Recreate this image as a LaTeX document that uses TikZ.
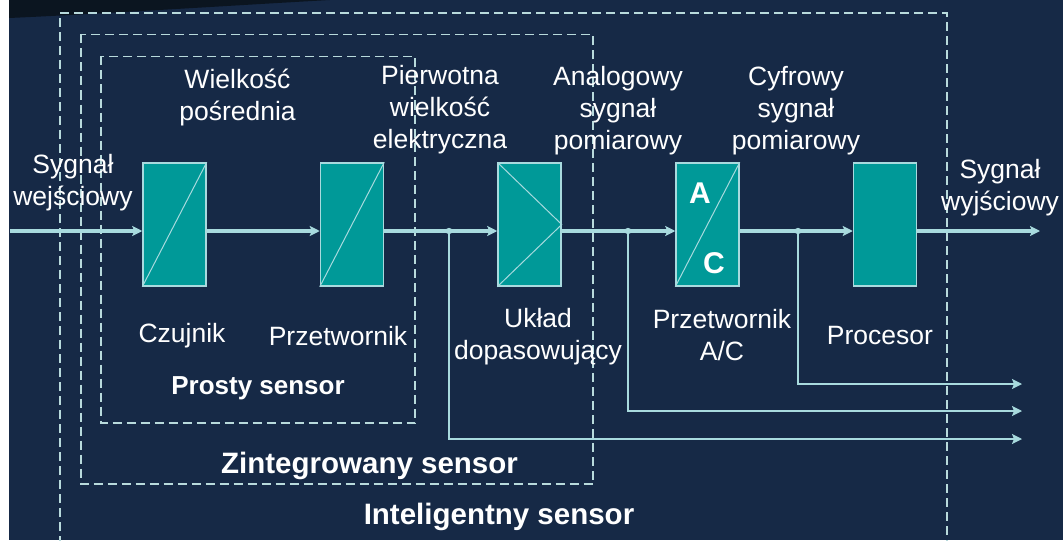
\documentclass[tikz,border=0pt]{standalone}
\usepackage{fontspec}
\setmainfont{Liberation Sans}
\usetikzlibrary{arrows.meta,positioning,calc}
\definecolor{bgnavy}{RGB}{22,41,70}
\definecolor{bgdark}{RGB}{11,21,32}
\definecolor{blockteal}{RGB}{0,153,152}
\definecolor{sigline}{RGB}{168,218,222}
\definecolor{boxline}{RGB}{184,218,220}

\begin{document}
\begin{tikzpicture}[
  x=0.5pt, y=-0.5pt,
  font=\fontsize{13.25}{16}\selectfont,
  text=white,
  >={Stealth[length=5pt,width=5pt,inset=1pt]},
  block/.style={draw=sigline, line width=0.75pt, fill=blockteal, minimum width=31.5pt, minimum height=61.5pt, inner sep=0pt},
  diag/.style={draw=sigline, line width=0.5pt},
  sig/.style={draw=sigline, line width=1.6pt, ->},
  tap/.style={draw=sigline, line width=1pt, ->},
  frame/.style={draw=boxline, line width=0.75pt, dash pattern=on 4.5pt off 2.5pt},
  lbl/.style={align=center, inner sep=0pt},
  title/.style={inner sep=0pt, font=\bfseries\fontsize{14.75}{16}\selectfont},
  letter/.style={inner sep=0pt, font=\bfseries\fontsize{15}{16}\selectfont}]

\useasboundingbox (0,0) rectangle (1063,540);
\fill[bgnavy] (0,0) rectangle (1063,540);
\fill[bgdark] (9,0) -- (9,18) .. controls (100,14) and (240,5) .. (330,0) -- cycle;
\fill[white] (0,0) rectangle (9,540);

% sensor frames
\begin{scope}
  \clip (0,0) rectangle (1063,540);
  \draw[frame] (60,545) -- (60,13) -- (947,13) -- (947,545);
\end{scope}
\draw[frame] (81,34.5) rectangle (593,484);
\draw[frame] (101,56.5) rectangle (415,423);

% blocks
\foreach \n/\x in {cz/174.5, pr/352, ud/529.5, ac/707.5, cpu/885}
  \node[block] (\n) at (\x,224.5) {};

\foreach \n in {cz,pr,ac}
  \draw[diag] (\n.south west) -- (\n.north east);
\draw[diag] (ud.north west) -- (ud.east) -- (ud.south west);

\node[letter] (la) at (700,193) {A};
\node[letter] (lc) at (714,263) {C};

% signal path
\coordinate (in) at (10,231);
\coordinate (out) at (1040,231);
\draw[sig] (in) -- (in -| cz.west);
\draw[sig] (in -| cz.east) -- (in -| pr.west);
\draw[sig] (in -| pr.east) -- (in -| ud.west);
\draw[sig] (in -| ud.east) -- (in -| ac.west);
\draw[sig] (in -| ac.east) -- (in -| cpu.west);
\draw[sig] (in -| cpu.east) -- (out);

% taps
\foreach \i/\x/\y in {1/449/439, 2/628/411, 3/798/384} {
  \coordinate (j\i) at (\x,231);
  \coordinate (r\i) at (1022,\y);
  \fill[sigline] (j\i) circle (1.6pt);
  \draw[tap] (j\i) |- (r\i);
}

% labels
\node[lbl] (win) at (73,182.5) {Sygnał\\wejściowy};
\node[lbl] (wout) at (1000,188) {Sygnał\\wyjściowy};
\node[lbl] (q1) at (237.5,97) {Wielkość\\pośrednia};
\node[lbl] (q2) at (440,110) {Pierwotna\\wielkość\\elektryczna};
\node[lbl] (q3) at (618,111) {Analogowy\\sygnał\\pomiarowy};
\node[lbl] (q4) at (796,111) {Cyfrowy\\sygnał\\pomiarowy};

\node[lbl] (tcz) at (182,336) {Czujnik};
\node[lbl] (tpr) at (338,336) {Przetwornik};
\node[lbl] (tud) at (538,336.5) {Układ\\dopasowujący};
\node[lbl] (tac) at (722,335.5) {Przetwornik\\A/C};
\node[lbl] (tcpu) at (880,336) {Procesor};

\node[title, font=\bfseries\fontsize{13}{16}\selectfont] (s1) at (258,388) {Prosty sensor};
\node[title] (s2) at (369.5,466) {Zintegrowany sensor};
\node[title] (s3) at (499,517) {Inteligentny sensor};

\end{tikzpicture}
\end{document}
